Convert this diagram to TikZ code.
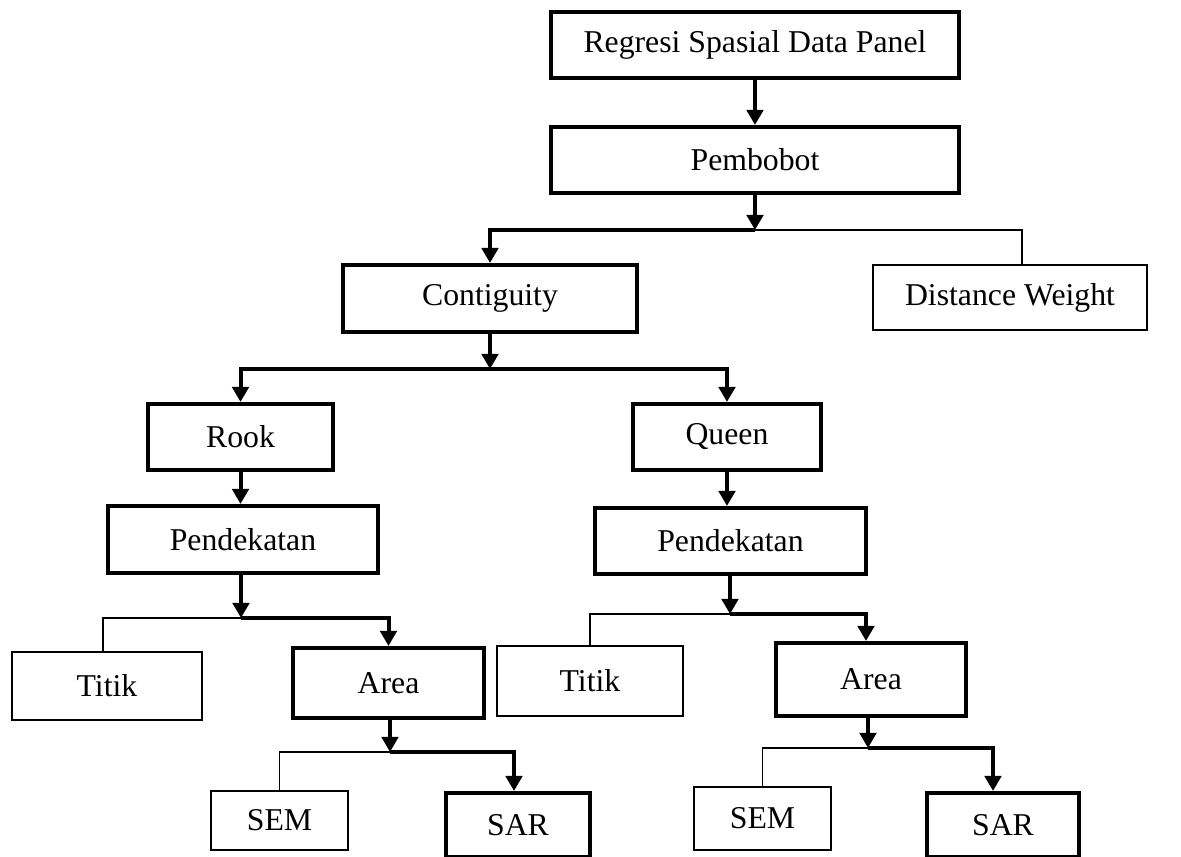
\documentclass[tikz,border=0pt]{standalone}
\usepackage{fontspec}
\setmainfont{Liberation Serif}
\usetikzlibrary{arrows.meta}
\tikzset{%
  box/.style={draw, rectangle, inner sep=0pt, line width=1.6pt, fill=white},
  thin box/.style={box, line width=0.8pt},
  link/.style={line width=1.6pt, -{Triangle[length=6pt, width=6.5pt]}},
  thin link/.style={line width=0.45pt}
}

\begin{document}
\begin{tikzpicture}[x=0.4pt, y=-0.4pt, font=\fontsize{12.7}{15}\selectfont]
    \useasboundingbox (0,0) rectangle (1181,857);
    \node[box, minimum width=163.2pt, minimum height=26.4pt] (reg) at (755,45) {Regresi Spasial Data Panel};
    \node[box, minimum width=163.2pt, minimum height=26.4pt] (pemb) at (755,160) {Pembobot};
    \node[box, minimum width=117.6pt, minimum height=26.8pt] (cont) at (490,298.5) {Contiguity};
    \node[thin box, minimum width=109.6pt, minimum height=26pt] (dist) at (1010,297.5) {Distance Weight};
    \node[box, minimum width=74pt, minimum height=26.4pt] (rook) at (240.5,437) {Rook};
    \node[box, minimum width=75.2pt, minimum height=26.4pt] (queen) at (727,437) {Queen};
    \node[box, minimum width=108pt, minimum height=26.8pt] (pendL) at (243,539.5) {Pendekatan};
    \node[box, minimum width=108.4pt, minimum height=26.4pt] (pendR) at (730.5,541) {Pendekatan};
    \node[thin box, minimum width=76pt, minimum height=27.2pt] (titikL) at (107,686) {Titik};
    \node[box, minimum width=76.4pt, minimum height=28pt] (areaL) at (388.5,683) {Area};
    \node[thin box, minimum width=74.4pt, minimum height=28pt] (titikR) at (590,681) {Titik};
    \node[box, minimum width=76pt, minimum height=29.2pt] (areaR) at (871,679.5) {Area};
    \node[thin box, minimum width=54.8pt, minimum height=23.6pt] (semL) at (279.5,820.5) {SEM};
    \node[box, minimum width=57.6pt, minimum height=25.6pt] (sarL) at (518,825) {SAR};
    \node[thin box, minimum width=54.8pt, minimum height=25.2pt] (semR) at (762.5,818.5) {SEM};
    \node[box, minimum width=60.8pt, minimum height=25.6pt] (sarR) at (1003,825) {SAR};

    % branch points
    \coordinate (jPemb) at (755,230);
    \coordinate (jCont) at (490,369);
    \coordinate (jPendL) at (241,618);
    \coordinate (jPendR) at (730,614);
    \coordinate (jAreaL) at (390,752);
    \coordinate (jAreaR) at (868,748);

    \draw[link] (reg) -- (pemb);
    \draw[link] (pemb) -- (jPemb);
    \draw[link] (jPemb) -| (cont);
    \draw[thin link] (jPemb) -| ([xshift=4.8pt]dist.north);

    \draw[link] (cont) -- (jCont);
    \draw[link] (jCont) -| (rook);
    \draw[link] (jCont) -| (queen);
    \draw[link] (rook) -- (rook |- pendL.north);
    \draw[link] (queen) -- (queen |- pendR.north);

    \draw[link] (pendL.south -| jPendL) -- (jPendL);
    \draw[thin link] (jPendL) -| ([xshift=-1.6pt]titikL.north);
    \draw[link] (jPendL) -| (areaL);
    \draw[link] (pendR.south -| jPendR) -- (jPendR);
    \draw[thin link] (jPendR) -| (titikR);
    \draw[link] (jPendR) -| ([xshift=-2pt]areaR.north);

    \draw[link] (areaL.south -| jAreaL) -- (jAreaL);
    \draw[thin link] (jAreaL) -| (semL);
    \draw[link] (jAreaL) -| ([xshift=-1.6pt]sarL.north);
    \draw[link] (areaR.south -| jAreaR) -- (jAreaR);
    \draw[thin link] (jAreaR) -| (semR);
    \draw[link] (jAreaR) -| ([xshift=-4pt]sarR.north);
  \end{tikzpicture}
\end{document}
